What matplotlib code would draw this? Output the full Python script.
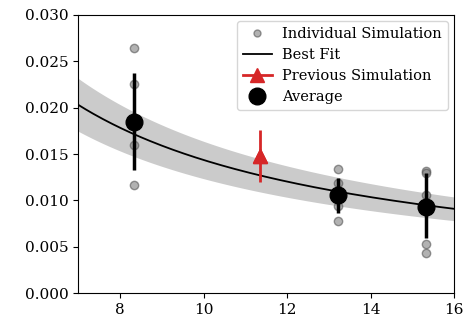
import matplotlib
matplotlib.use("Agg")
import matplotlib.pyplot as plt
import numpy as np

plt.rcParams["font.family"] = "DejaVu Serif"

# individual simulations (x, y)
indiv_x = [8.33, 8.33, 8.33, 8.33,
           13.22, 13.22, 13.22, 13.22, 13.22,
           15.33, 15.33, 15.33, 15.33, 15.33, 15.33]
indiv_y = [0.0264, 0.0225, 0.0160, 0.0117,
           0.0134, 0.0119, 0.0106, 0.0094, 0.0078,
           0.0132, 0.0130, 0.0106, 0.0095, 0.0053, 0.0044]

# averages with error bars
avg_x = [8.33, 13.22, 15.33]
avg_y = [0.0185, 0.0106, 0.0093]
avg_lo = [0.0133, 0.0087, 0.0060]
avg_hi = [0.0237, 0.0124, 0.0130]

# previous simulation
prev_x = [11.35]
prev_y = [0.0148]
prev_lo = [0.0120]
prev_hi = [0.0176]

# best fit y = a * x**b, band relative width
fit_a = 0.134
fit_b = -0.97
band_rel = 0.14

fig, ax = plt.subplots(figsize=(4.66, 3.26), dpi=100)

xs = np.linspace(7, 16, 200)
fit = fit_a * xs ** fit_b
ax.fill_between(xs, fit * (1 - band_rel), fit * (1 + band_rel), color="#cbcbcb", lw=0)

ax.plot(indiv_x, indiv_y, "o", color="gray", alpha=0.6, ms=6, mec="#555555",
        label="Individual Simulation", zorder=3)
ax.plot(xs, fit, color="black", lw=1.3, label="Best Fit", zorder=2)

avg_err = [np.array(avg_y) - np.array(avg_lo), np.array(avg_hi) - np.array(avg_y)]
prev_err = [np.array(prev_y) - np.array(prev_lo), np.array(prev_hi) - np.array(prev_y)]
ax.errorbar(prev_x, prev_y, yerr=prev_err, fmt="^", color="#d62728", ms=10,
            elinewidth=2, zorder=4)
ax.plot(prev_x, prev_y, "^-", color="#d62728", ms=10, lw=2,
        label="Previous Simulation", zorder=4)
ax.errorbar(avg_x, avg_y, yerr=avg_err, fmt="o", color="black", ms=12,
            elinewidth=2.5, label="Average", zorder=5)

ax.set_xlim(7, 16)
ax.set_ylim(0, 0.030)
ax.set_xticks([8, 10, 12, 14, 16])
ax.set_yticks(np.arange(0, 0.031, 0.005))
ax.yaxis.set_major_formatter(matplotlib.ticker.FormatStrFormatter("%.3f"))
ax.tick_params(labelsize=11)

leg = ax.legend(loc="upper right", fontsize=10.5, labelspacing=0.48,
                handletextpad=0.7, borderaxespad=0.45)
leg.legend_handles[0].set_markersize(5)

fig.subplots_adjust(left=0.168, right=0.975, top=0.955, bottom=0.1)
fig.savefig("out.png", dpi=100)
